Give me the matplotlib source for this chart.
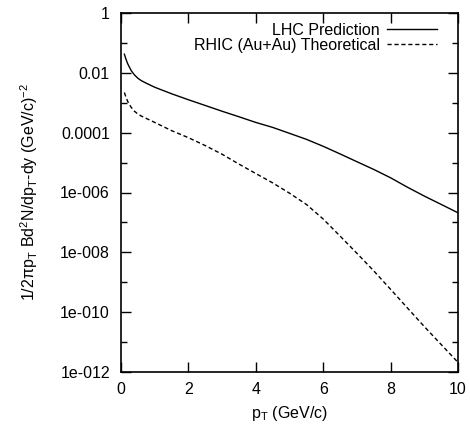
import numpy as np
import matplotlib
matplotlib.use("Agg")
import matplotlib.pyplot as plt
from matplotlib.ticker import FixedLocator, FixedFormatter

plt.rcParams['font.family'] = ['Liberation Sans', 'DejaVu Sans']
plt.rcParams['mathtext.fontset'] = 'custom'
plt.rcParams['mathtext.rm'] = 'Liberation Sans'
plt.rcParams['mathtext.it'] = 'Liberation Sans:italic'
plt.rcParams['mathtext.default'] = 'regular'

# LHC prediction (solid)
pt_lhc = [0.1, 0.15, 0.2, 0.3, 0.4, 0.5, 0.6, 0.75, 1.0, 1.5, 2.0, 2.5, 3.0, 3.5, 4.0, 4.5, 5.0,
          5.5, 6.0, 6.5, 7.0, 7.5, 8.0, 8.5, 9.0, 9.5, 10.0]
y_lhc = [4.2e-2, 2.8e-2, 2.0e-2, 1.2e-2, 8.5e-3, 6.6e-3, 5.5e-3, 4.5e-3, 3.3e-3, 2.0e-3,
         1.26e-3, 8.1e-4, 5.2e-4, 3.4e-4, 2.2e-4, 1.5e-4, 9.5e-5, 6.0e-5, 3.5e-5, 1.95e-5,
         1.07e-5, 5.9e-6, 3.1e-6, 1.5e-6, 7.6e-7, 4.0e-7, 2.1e-7]

# RHIC (Au+Au) theoretical (dashed)
pt_rhic = [0.1, 0.15, 0.2, 0.3, 0.4, 0.5, 0.6, 0.75, 1.0, 1.5, 2.0, 2.5, 3.0, 3.5, 4.0, 4.5, 5.0,
           5.5, 6.0, 6.5, 7.0, 7.5, 8.0, 8.5, 9.0, 9.5, 10.0]
y_rhic = [2.2e-3, 1.5e-3, 1.1e-3, 7.1e-4, 5.2e-4, 4.2e-4, 3.6e-4, 3.0e-4, 2.2e-4, 1.17e-4,
          6.8e-5, 3.7e-5, 1.9e-5, 8.9e-6, 4.3e-6, 2.1e-6, 9.5e-7, 4.0e-7, 1.3e-7, 3.5e-8,
          9.3e-9, 2.4e-9, 5.8e-10, 1.38e-10, 3.3e-11, 8.3e-12, 2.1e-12]

ytick_vals = [1e0, 1e-2, 1e-4, 1e-6, 1e-8, 1e-10, 1e-12]
ytick_labels = ["1", "0.01", "0.0001", "1e-006", "1e-008", "1e-010", "1e-012"]
yminor_vals = [1e-1, 1e-3, 1e-5, 1e-7, 1e-9, 1e-11]
xtick_vals = [0, 2, 4, 6, 8, 10]

fig = plt.figure(figsize=(4.7, 4.25), dpi=100)
ax = fig.add_axes([121 / 470, 1 - 372 / 425, (458 - 121) / 470, (372 - 13) / 425])

ax.plot(pt_lhc, y_lhc, color="black", lw=1.0, label="LHC Prediction")
ax.plot(pt_rhic, y_rhic, color="black", lw=1.0, ls=(0, (3, 2)), label="RHIC (Au+Au) Theoretical")

ax.set_yscale("log")
ax.set_xlim(0, 10)
ax.set_ylim(1e-12, 1)
ax.yaxis.set_major_locator(FixedLocator(ytick_vals))
ax.yaxis.set_major_formatter(FixedFormatter(ytick_labels))
ax.yaxis.set_minor_locator(FixedLocator(yminor_vals))
ax.yaxis.set_minor_formatter(FixedFormatter([""] * len(yminor_vals)))
ax.set_xticks(xtick_vals)
ax.set_xticklabels([str(v) for v in xtick_vals])

ax.tick_params(which="major", direction="in", length=7, width=1, top=True, right=True, labelsize=11.5)
ax.tick_params(axis="y", which="major", pad=8)
ax.tick_params(axis="x", which="major", pad=7.5)
ax.tick_params(which="minor", direction="in", length=4, width=1, right=True)
for s in ax.spines.values():
    s.set_linewidth(1.2)

ax.set_xlabel(r"p$_{\rm T}$ (GeV/c)", fontsize=11.5, va="top")
ax.xaxis.set_label_coords(0.5, (372 - 404) / 359)
ax.set_ylabel(r"1/2$\pi$p$_{\rm T}$ Bd$^2$N/dp$_{\rm T}$-dy (GeV/c)$^{-2}$", fontsize=11.5)
ax.yaxis.set_label_coords((40 - 121) / 337, 0.5)

ax.legend(loc="upper right", frameon=False, markerfirst=False, fontsize=11.5,
          handlelength=3.1, handletextpad=0.5, labelspacing=0.0,
          borderpad=0, borderaxespad=0,
          bbox_to_anchor=((437 - 121) / 337, (372 - 23) / 359))

fig.savefig("out.png", dpi=100)
